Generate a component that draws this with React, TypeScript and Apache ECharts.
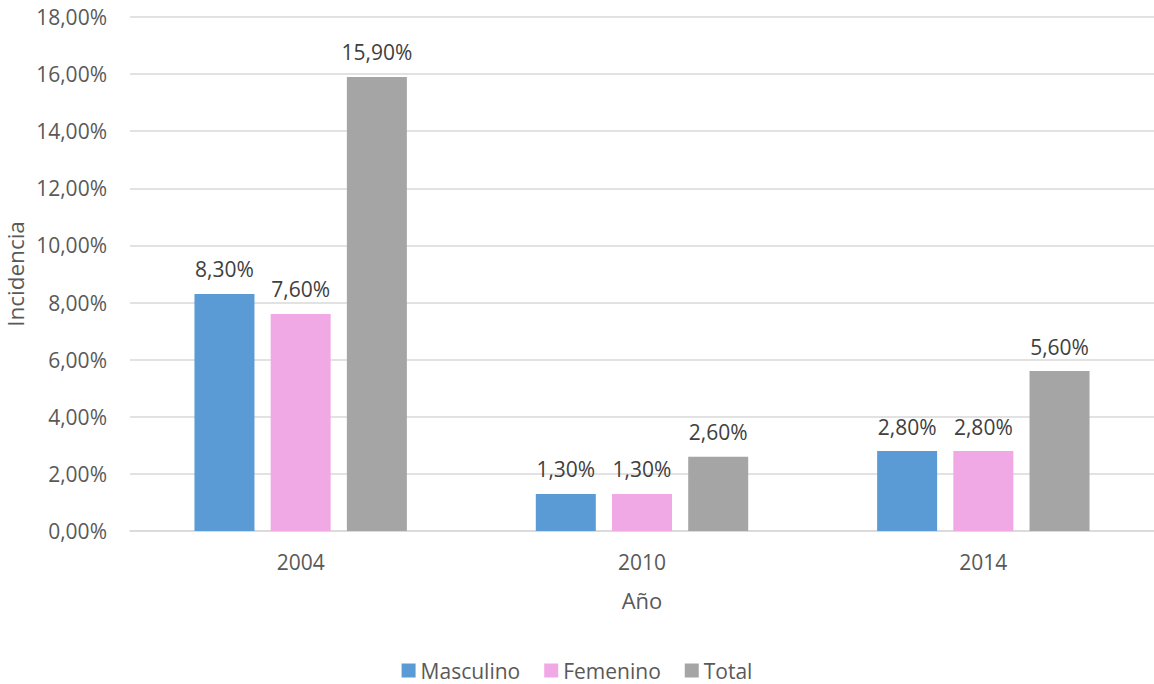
import React, { useEffect, useRef } from "react";
import * as echarts from "echarts";

const categories = ["2004", "2010", "2014"];
const masculino = [8.3, 1.3, 2.8];
const femenino = [7.6, 1.3, 2.8];
const total = [15.9, 2.6, 5.6];
const seriesNames = ["Masculino", "Femenino", "Total"];
const colors = ["#5B9BD5", "#F1A9E6", "#A5A5A5"];
const yAxisTitle = "Incidencia";

const FONT = "'Open Sans', sans-serif";
const fmt = (v: number) => v.toFixed(2).replace(".", ",") + "%";

export default function App() {
  const ref = useRef<HTMLDivElement>(null);
  useEffect(() => {
    if (!ref.current) return;
    const chart = echarts.init(ref.current, null, { renderer: "svg" });
    const data = [masculino, femenino, total];
    chart.setOption({
      animation: false,
      textStyle: { fontFamily: FONT },
      grid: { left: 130, right: 0, top: 17, bottom: 153, containLabel: false, outerBoundsMode: "none" },
      graphic: [
        {
          type: "text",
          x: 15,
          y: 274,
          rotation: Math.PI / 2,
          style: {
            text: yAxisTitle,
            fontSize: 22.5,
            fontFamily: FONT,
            fill: "#595959",
            align: "center",
            verticalAlign: "middle",
          },
        },
      ],
      legend: {
        top: 655,
        left: "center",
        itemWidth: 14,
        itemHeight: 14,
        itemGap: 24,
        icon: "rect",
        textStyle: { fontSize: 21, color: "#595959", fontFamily: FONT },
        data: seriesNames,
      },
      xAxis: {
        type: "category",
        data: categories,
        name: "Año",
        nameLocation: "middle",
        nameGap: 58,
        nameTextStyle: { fontSize: 22, color: "#595959", fontFamily: FONT },
        axisLine: { lineStyle: { color: "#D9D9D9", width: 1.5 } },
        axisTick: { show: false },
        axisLabel: { fontSize: 21, color: "#595959", margin: 20, fontFamily: FONT },
      },
      yAxis: {
        type: "value",
        min: 0,
        max: 18,
        interval: 2,
        axisLine: { show: false },
        axisTick: { show: false },
        splitLine: { lineStyle: { color: "#D9D9D9", width: 1.5 } },
        axisLabel: {
          fontSize: 21,
          color: "#595959",
          margin: 23,
          fontFamily: FONT,
          formatter: (v: number) => fmt(v),
        },
      },
      series: seriesNames.map((name, i) => ({
        name,
        type: "bar",
        data: data[i],
        barWidth: 60,
        barGap: "27%",
        itemStyle: { color: colors[i] },
        label: {
          show: true,
          position: "top",
          distance: 14,
          fontSize: 21,
          color: "#404040",
          fontFamily: FONT,
          formatter: (p: any) => fmt(p.value),
        },
      })),
    });
    return () => chart.dispose();
  }, []);
  return (
    <div
      ref={ref}
      style={{ position: "fixed", left: 0, top: 0, width: 1154, height: 684, background: "#fff" }}
    />
  );
}
